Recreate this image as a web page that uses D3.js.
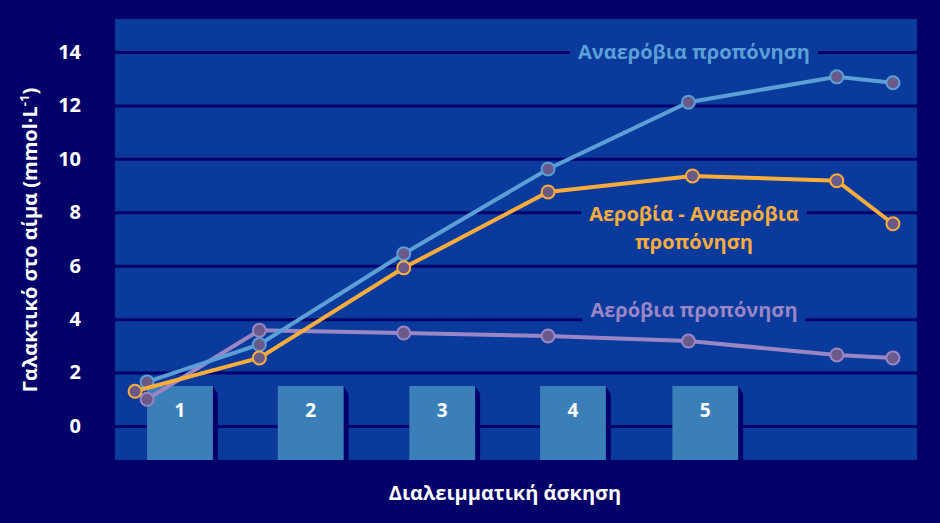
<!DOCTYPE html><html><head><meta charset="utf-8"><script src="https://cdn.jsdelivr.net/npm/d3@7"></script>
<style>body{margin:0;background:#03006a}</style></head><body><svg id="c" width="940" height="523"></svg>
<script>
const yTicks=[0,2,4,6,8,10,12,14];
const barLabels=["1","2","3","4","5"];
const barCenters=[8.1,24.4,40.8,57.1,73.6];
const barWidth=8.2;
const anaerobicT=[4,18,36,54,71.5,90,97];
const anaerobic=[1.65,3.05,6.45,9.62,12.12,13.07,12.85];
const mixedT=[2.5,18,36,54,72,90,97];
const mixed=[1.3,2.55,5.92,8.76,9.36,9.18,7.57];
const aerobicT=[4,18,36,54,71.5,90,97];
const aerobic=[1.0,3.58,3.48,3.37,3.18,2.66,2.55];
const svg=d3.select("#c"),L=115,R=917,T=19,B=460,font="Open Sans, sans-serif";
const x=d3.scaleLinear().domain([0,100]).range([L,R]);
const y=d3.scaleLinear().domain([0,14]).range([426,52]);
svg.append("rect").attr("x",L).attr("y",T).attr("width",R-L).attr("height",B-T).attr("fill","#0a3a9c");
const ya=svg.append("g").attr("transform",`translate(${L},0)`).call(d3.axisLeft(y).tickValues(yTicks).tickSize(-(R-L)).tickPadding(34));
ya.select(".domain").remove();
ya.selectAll("line").attr("stroke","#03006a").attr("stroke-width",3);
ya.selectAll("text").attr("fill","#fff").attr("font-size",20).attr("font-weight","bold").attr("font-family",font);
const bars=svg.append("g");
barCenters.forEach((c,i)=>{
 const x0=x(c-barWidth/2),x1=x(c+barWidth/2),yt=386;
 bars.append("path").attr("d",`M${x1},${yt}L${x1+5},${yt+8}L${x1+5},${B}L${x1},${B}Z`).attr("fill","#03006a");
 bars.append("rect").attr("x",x0).attr("y",yt).attr("width",x1-x0).attr("height",B-yt).attr("fill","#3a7fb8");
 bars.append("text").attr("x",(x0+x1)/2).attr("y",417).attr("text-anchor","middle").attr("fill","#fff").attr("font-size",19).attr("font-weight","bold").attr("font-family",font).text(barLabels[i]);
});
function series(ts,vs,col){
 const pts=ts.map((t,i)=>[x(t),y(vs[i])]);
 svg.append("path").attr("d",d3.line()(pts)).attr("fill","none").attr("stroke",col).attr("stroke-width",4);
 svg.selectAll(null).data(pts).enter().append("circle").attr("cx",d=>d[0]).attr("cy",d=>d[1]).attr("r",6.5).attr("fill","#6a5a8a").attr("stroke",col).attr("stroke-width",2);
}
function lab(t,yy,col){
 const tx=svg.append("text").attr("x",694).attr("y",yy).attr("text-anchor","middle").attr("fill",col).attr("font-size",20).attr("font-weight","bold").attr("font-family",font).text(t);
 const b=tx.node().getBBox();
 svg.insert("rect",()=>tx.node()).attr("x",b.x-8).attr("y",b.y).attr("width",b.width+16).attr("height",b.height).attr("fill","#0a3a9c");
}
series(aerobicT,aerobic,"#9a86c6");
series(anaerobicT,anaerobic,"#5b9fd6");
series(mixedT,mixed,"#fbad3c");
lab("Αναερόβια προπόνηση",59,"#5b9fd6");
lab("Αεροβία - Αναερόβια",221,"#fbad3c");
lab("προπόνηση",249,"#fbad3c");
lab("Αερόβια προπόνηση",317,"#9a86c6");
svg.append("text").attr("x",505).attr("y",500).attr("text-anchor","middle").attr("fill","#fff").attr("font-size",20).attr("font-weight","bold").attr("font-family",font).text("Διαλειμματική άσκηση");
const yl=svg.append("text").attr("transform","translate(37,240) rotate(-90)").attr("text-anchor","middle").attr("fill","#fff").attr("font-size",20).attr("font-weight","bold").attr("font-family",font);
yl.append("tspan").text("Γαλακτικό στο αίμα (mmol·L");
yl.append("tspan").attr("dy",-8).attr("font-size",13).text("-1");
yl.append("tspan").attr("dy",8).text(")");
</script></body></html>
